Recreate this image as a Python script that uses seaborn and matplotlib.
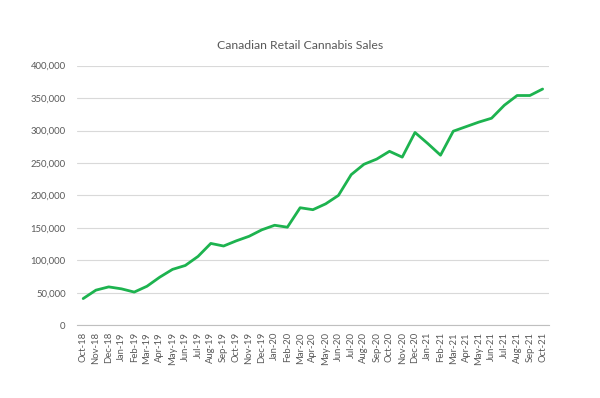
import numpy as np
import pandas as pd
import matplotlib
matplotlib.use("Agg")
import matplotlib.pyplot as plt
from matplotlib.ticker import FuncFormatter, FixedLocator
import seaborn as sns

# monthly sales, Oct-18 .. Oct-21
months = ["Oct-18", "Nov-18", "Dec-18", "Jan-19", "Feb-19", "Mar-19", "Apr-19", "May-19",
          "Jun-19", "Jul-19", "Aug-19", "Sep-19", "Oct-19", "Nov-19", "Dec-19", "Jan-20",
          "Feb-20", "Mar-20", "Apr-20", "May-20", "Jun-20", "Jul-20", "Aug-20", "Sep-20",
          "Oct-20", "Nov-20", "Dec-20", "Jan-21", "Feb-21", "Mar-21", "Apr-21", "May-21",
          "Jun-21", "Jul-21", "Aug-21", "Sep-21", "Oct-21"]
sales = [41000, 54000, 59000, 56000, 51000, 60000, 74000, 86000,
         92000, 106000, 126000, 122000, 130000, 137000, 147000, 154000,
         151000, 181000, 178000, 187000, 200000, 232000, 248000, 256000,
         268000, 259000, 297000, 280000, 262000, 299000, 306000, 313000,
         319000, 339000, 354000, 354000, 364000]

df = pd.DataFrame({"month": months, "sales": sales, "pos": range(len(months))})

sns.set_theme(style="white")
plt.rcParams['font.family'] = ['Lato', 'DejaVu Sans']

fig = plt.figure(figsize=(6, 3.98), dpi=100)
ax = fig.add_axes([0.128, 0.183, 0.787, 0.652])

sns.lineplot(data=df, x="pos", y="sales", color="#1db34f", linewidth=2.0, ax=ax)

ax.set_xlim(-0.5, len(months) - 0.5)
ax.set_ylim(0, 400000)
ax.set_yticks(np.arange(0, 400001, 50000))
ax.yaxis.set_major_formatter(FuncFormatter(lambda v, p: f"{int(v):,}"))
ax.grid(axis="y", color="#d9d9d9", linewidth=0.8)
ax.set_axisbelow(True)

ax.set_xticks(df["pos"])
ax.set_xticklabels(months, rotation=90, fontsize=6.8, color="#595959")
ax.xaxis.set_minor_locator(FixedLocator(np.arange(-0.5, len(months), 1)))
ax.tick_params(axis="x", which="major", length=0, pad=5)
ax.tick_params(axis="x", which="minor", length=4, color="#bfbfbf", width=0.8)
ax.tick_params(axis="y", length=0, labelsize=6.8, labelcolor="#595959", pad=8)

for s in ["top", "right", "left"]:
    ax.spines[s].set_visible(False)
ax.spines["bottom"].set_color("#bfbfbf")
ax.spines["bottom"].set_linewidth(0.8)

ax.set_xlabel("")
ax.set_ylabel("")
fig.text(0.5, 0.886, "Canadian Retail Cannabis Sales", ha="center", va="center",
         fontsize=8.8, color="#595959")

fig.savefig("out.png", dpi=100)
